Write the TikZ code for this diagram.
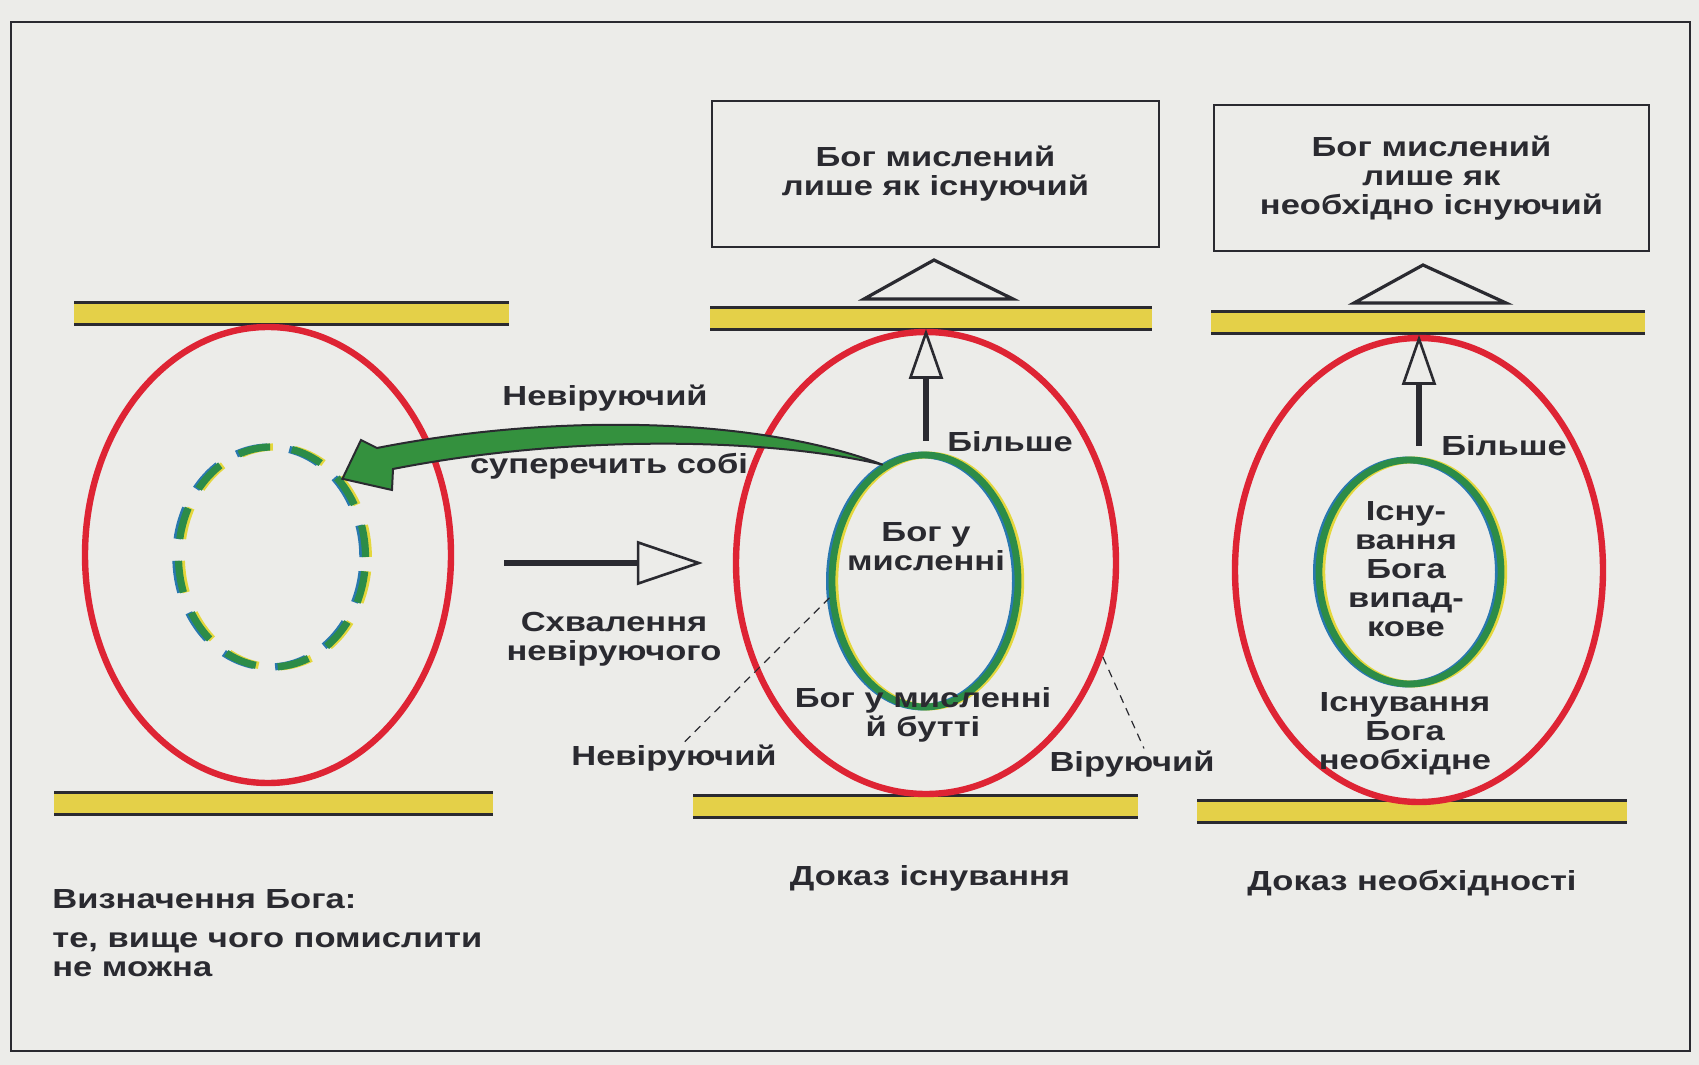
\documentclass[tikz,border=0pt]{standalone}
\usepackage{fontspec}
\setmainfont{Liberation Sans}[FakeStretch=1.25]
\usetikzlibrary{arrows.meta,shapes.geometric}

\definecolor{paper}{RGB}{236,236,233}
\definecolor{ink}{RGB}{42,42,48}
\definecolor{ovalred}{RGB}{222,36,52}
\definecolor{ringgreen}{RGB}{44,140,72}
\definecolor{ringblue}{RGB}{40,120,175}
\definecolor{ringyellow}{RGB}{228,215,60}
\definecolor{barfill}{RGB}{228,208,72}
\definecolor{arrgreen}{RGB}{52,145,62}

\newcommand\lblfont{\fontsize{13.8}{14.5}\selectfont\bfseries}

\begin{document}
\begin{tikzpicture}[x=0.5pt, y=-0.5pt,
  lbl/.style={font=\lblfont, text=ink, align=center, inner sep=1pt},
  box/.style={draw=ink, line width=1.2pt, font=\lblfont, text=ink, align=center},
  tri/.style={draw=ink, line width=1.6pt, line join=miter},
  barline/.style={draw=ink, line width=1.5pt},
  redoval/.style={ellipse, draw=ovalred, line width=3.2pt, inner sep=0pt},
  ring/.style={ellipse, draw=ringgreen, line width=3.4pt, inner sep=0pt,
    preaction={draw=ringblue, transform canvas={xshift=-1.3pt}},
    preaction={draw=ringyellow, transform canvas={xshift=1.4pt}}},
  dashring/.style={ring, line width=3.6pt, dash pattern=on 16pt off 11pt},
  gshape/.style={fill=arrgreen, draw=ink, line width=1pt, line join=miter},
  hollow/.style={draw=ink, line width=3pt,
    -{Triangle[open, length=33pt, width=22pt, line width=1.3pt]}},
  uparr/.style={draw=ink, line width=2.6pt,
    -{Triangle[open, length=25pt, width=17pt, line width=1.3pt]}},
  pointer/.style={draw=ink, line width=0.6pt, dash pattern=on 4pt off 3pt}
]
  \fill[paper] (0,0) rectangle (1699,1065);
  \draw[ink, line width=1.2pt] (11,22) rectangle (1690,1051);

  % yellow bars
  \foreach \xa/\xb/\ya in {74/509/302, 710/1152/307, 1211/1645/311,
                          54/493/792, 693/1138/795, 1197/1627/800}{
    \fill[barfill] (\xa,\ya) rectangle (\xb,\ya+22);
    \draw[barline] (\xa,\ya) -- (\xb,\ya) (\xa,\ya+22) -- (\xb,\ya+22);
  }

  % boxes and triangles
  \node[box, minimum width=223.5pt, minimum height=73pt] (thought) at (935.5,174)
    {Бог мислений\\лише як існуючий};
  \node[box, minimum width=217.5pt, minimum height=73pt] (needed) at (1431.5,178)
    {Бог мислений\\лише як\\необхідно існуючий};
  \draw[tri] (864,299) -- (934,260) -- (1013,299) -- cycle;
  \draw[tri] (1354,303) -- (1423,265) -- (1506,303) -- cycle;

  % inner rings
  \node[dashring, minimum width=93.5pt, minimum height=110pt] (empty) at (272,557) {};
  \node[ring, minimum width=93pt, minimum height=126pt] (inmind) at (925,581) {};
  \node[ring, minimum width=91pt, minimum height=112pt] (contin) at (1410,572) {};

  % outer ovals
  \node[redoval, minimum width=183pt, minimum height=228pt] (def) at (268,555) {};
  \node[redoval, minimum width=190pt, minimum height=231pt] (exist) at (926,563) {};
  \node[redoval, minimum width=184pt, minimum height=232pt] (necess) at (1419,570) {};

  % green arrow: the unbeliever's thought falls back into the dashed ring
  \coordinate (gtail) at (inmind.110);
  \coordinate (gtip) at (empty.48);
  \filldraw[gshape] (gtail) .. controls (760,418) and (560,412) .. (377,448)
    -- (361,440) -- (gtip) -- (392,490) -- (393,469)
    .. controls (560,436) and (760,436) .. (gtail) -- cycle;

  % labels
  \node[lbl] (unbel) at (605,398) {Невіруючий};
  \node[lbl] (contra) at (609,466) {суперечить собі};
  \node[lbl] (approv) at (614,639) {Схвалення\\невіруючого};
  \node[lbl, anchor=west] (more1) at (945,442) {Більше};
  \node[lbl, anchor=west] (more2) at (1439,446) {Більше};
  \node[lbl] (mindtxt) at (926,547) {Бог у\\мисленні};
  \node[lbl] (beingtxt) at (923,715) {Бог у мисленні\\й бутті};
  \node[lbl] (conttxt) at (1406,569) {Існу-\\вання\\Бога\\випад-\\кове};
  \node[lbl] (needtxt) at (1405,734) {Існування\\Бога\\необхідне};
  \node[lbl] (nonbel) at (674,758) {Невіруючий};
  \node[lbl] (bel) at (1132,764) {Віруючий};
  \node[lbl] (proof1) at (930,878) {Доказ існування};
  \node[lbl] (proof2) at (1412,883) {Доказ необхідності};
  \node[lbl, anchor=west] (defhead) at (50,899) {Визначення Бога:};
  \node[lbl, anchor=west, align=left] (defbody) at (50,955)
    {те, вище чого помислити\\не можна};

  % arrows
  \coordinate (appr) at (504,563);
  \draw[hollow] (appr) -- ([xshift=-15pt]exist.west);
  \draw[uparr] ([yshift=5.5pt]inmind.north -| exist.north) -- (exist.north);
  \draw[uparr] ([yshift=5.5pt]contin.north -| necess.north) -- (necess.north);
  \draw[pointer] (inmind.190) -- ([xshift=5pt]nonbel.north);
  \draw[pointer] (exist.-28) -- ([xshift=6pt]bel.north);
\end{tikzpicture}
\end{document}
